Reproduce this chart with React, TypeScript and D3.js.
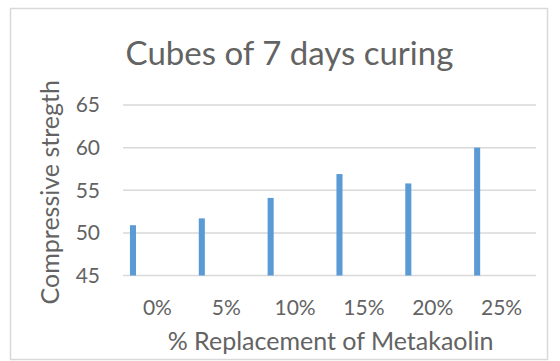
import React from "react";
import * as d3 from "d3";

// Compressive strength of cubes after 7 days of curing
const categories: string[] = ["0%", "5%", "10%", "15%", "20%", "25%"];
const strength: number[] = [50.9, 51.7, 54.1, 56.9, 55.8, 60.0];
const yTicks: number[] = [45, 50, 55, 60, 65];

const W = 560;
const H = 361;
const plot = { left: 123, right: 536, top: 105, bottom: 275.5 };

const FONT = "Lato, 'Open Sans', sans-serif";
const TEXT = "#636363";
const GRID = "#d9d9d9";
const BAR = "#5b9bd5";

export default function App() {
  const x = d3
    .scaleBand<string>()
    .domain(categories)
    .range([plot.left, plot.right])
    .padding(0);

  const y = d3
    .scaleLinear()
    .domain([45, 65])
    .range([plot.bottom, plot.top]);

  const bw = x.bandwidth();
  // each column sits in the first slot of its cluster
  const barW = bw * 0.088;
  const barOffset = bw * 0.145 - barW / 2;

  return (
    <svg
      width={W}
      height={H}
      style={{ position: "absolute", left: 0, top: 0, background: "#fff" }}
    >
      <rect
        x={10.5}
        y={8.5}
        width={537}
        height={351}
        fill="#fff"
        stroke={GRID}
        strokeWidth={1.5}
      />

      <text
        x={289.5}
        y={65}
        textAnchor="middle"
        fontFamily={FONT}
        fontSize={33}
        fill={TEXT}
      >
        Cubes of 7 days curing
      </text>

      {yTicks.map((t) => (
        <g key={t}>
          <line
            x1={plot.left}
            x2={plot.right}
            y1={y(t)}
            y2={y(t)}
            stroke={GRID}
            strokeWidth={1.5}
          />
          <text
            x={100}
            y={y(t)}
            dy="0.35em"
            textAnchor="end"
            fontFamily={FONT}
            fontSize={21}
            fill={TEXT}
          >
            {t}
          </text>
        </g>
      ))}

      {categories.map((c, i) => (
        <rect
          key={c}
          x={(x(c) as number) + barOffset}
          y={y(strength[i])}
          width={barW}
          height={y(45) - y(strength[i])}
          fill={BAR}
        />
      ))}

      {categories.map((c) => (
        <text
          key={c}
          x={(x(c) as number) + bw / 2}
          y={315}
          textAnchor="middle"
          fontFamily={FONT}
          fontSize={21}
          fill={TEXT}
        >
          {c}
        </text>
      ))}

      <text
        x={(plot.left + plot.right) / 2 + 1}
        y={350}
        textAnchor="middle"
        fontFamily={FONT}
        fontSize={25}
        fill={TEXT}
      >
        % Replacement of Metakaolin
      </text>

      <text
        transform={`translate(59, ${(plot.top + plot.bottom) / 2 + 2}) rotate(-90)`}
        textAnchor="middle"
        fontFamily={FONT}
        fontSize={25}
        fill={TEXT}
      >
        Compressive stregth
      </text>
    </svg>
  );
}
